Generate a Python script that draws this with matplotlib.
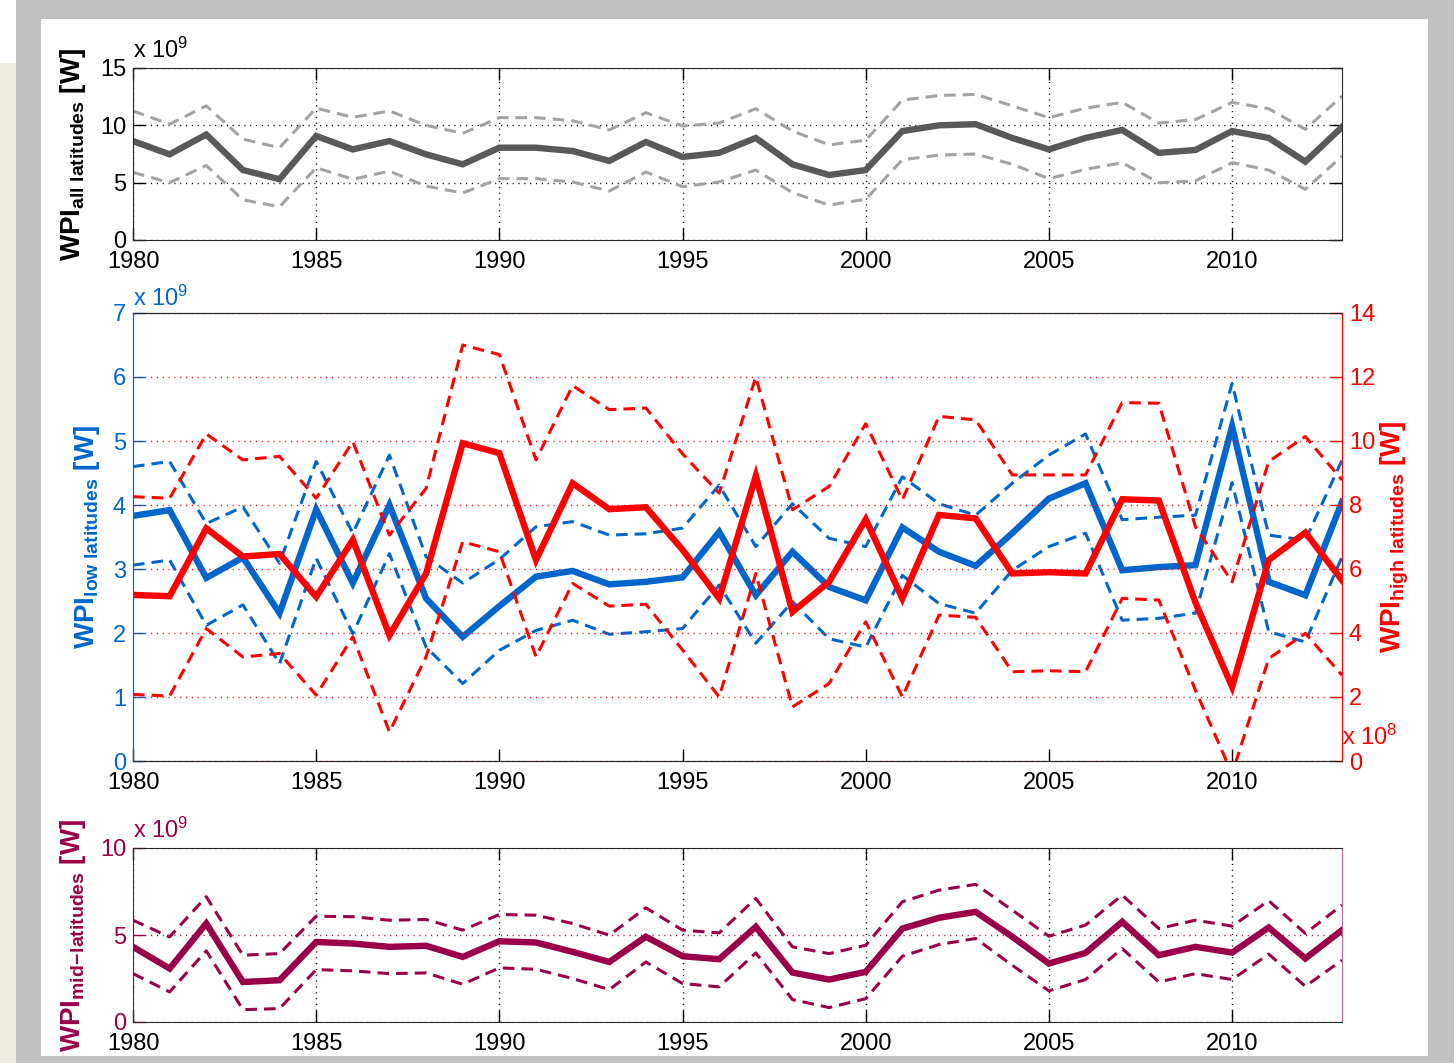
import matplotlib
matplotlib.use('Agg')
import matplotlib.pyplot as plt
from matplotlib.patches import Rectangle

plt.rcParams['font.family'] = ['Liberation Sans', 'DejaVu Sans']
plt.rcParams['mathtext.fontset'] = 'custom'
plt.rcParams['mathtext.rm'] = 'Liberation Sans'
plt.rcParams['mathtext.bf'] = 'Liberation Sans:bold'
plt.rcParams['mathtext.it'] = 'Liberation Sans:italic'

years = list(range(1980, 2014))
xticks = [1980, 1985, 1990, 1995, 2000, 2005, 2010]

# all latitudes (x 10^9 W): estimate and uncertainty band
wpi_all = [8.63, 7.47, 9.2, 6.1, 5.3, 9.07, 7.9, 8.63, 7.47, 6.6,
           8.05, 8.05, 7.76, 6.9, 8.55, 7.24, 7.6, 8.9, 6.6, 5.67,
           6.1, 9.5, 10.0, 10.1, 8.9, 7.9, 8.9, 9.6, 7.6, 7.85,
           9.5, 8.9, 6.83, 9.85]
wpi_all_hi = [11.25, 10.1, 11.7, 8.8, 8.05, 11.5, 10.7, 11.25, 10.0, 9.3,
              10.67, 10.67, 10.4, 9.6, 11.1, 9.94, 10.2, 11.45, 9.5, 8.3,
              8.7, 12.2, 12.6, 12.7, 11.7, 10.67, 11.5, 12.0, 10.2, 10.5,
              12.0, 11.45, 9.65, 12.55]
wpi_all_lo = [5.9, 5.0, 6.5, 3.5, 2.9, 6.3, 5.3, 6.0, 4.7, 4.1,
              5.35, 5.35, 5.06, 4.27, 5.93, 4.65, 5.06, 6.1, 4.13, 3.05,
              3.55, 7.0, 7.4, 7.5, 6.6, 5.35, 6.16, 6.74, 5.0, 5.15,
              6.74, 6.1, 4.42, 7.3]

# low latitudes (x 10^9 W)
wpi_low = [3.83, 3.92, 2.86, 3.18, 2.31, 3.93, 2.78, 4.0, 2.54, 1.94,
           2.42, 2.88, 2.97, 2.76, 2.8, 2.87, 3.58, 2.59, 3.27, 2.72,
           2.51, 3.65, 3.27, 3.05, 3.56, 4.1, 4.34, 2.98, 3.03, 3.06,
           5.23, 2.8, 2.59, 4.05]
wpi_low_hi = [4.6, 4.68, 3.71, 3.97, 3.09, 4.68, 3.56, 4.78, 3.19, 2.78,
              3.15, 3.66, 3.74, 3.53, 3.55, 3.64, 4.31, 3.35, 4.02, 3.48,
              3.35, 4.44, 4.02, 3.84, 4.34, 4.78, 5.11, 3.77, 3.81, 3.84,
              5.9, 3.53, 3.45, 4.7]
wpi_low_lo = [3.06, 3.14, 2.12, 2.44, 1.52, 3.17, 1.99, 3.24, 1.78, 1.21,
              1.73, 2.04, 2.2, 1.98, 2.02, 2.07, 2.75, 1.84, 2.49, 1.91,
              1.78, 2.9, 2.46, 2.31, 2.98, 3.35, 3.56, 2.2, 2.23, 2.31,
              4.35, 2.02, 1.86, 3.19]

# high latitudes (x 10^8 W)
wpi_high = [5.19, 5.15, 7.27, 6.39, 6.47, 5.13, 6.91, 3.93, 5.86, 9.93,
            9.62, 6.28, 8.68, 7.87, 7.93, 6.6, 5.08, 8.91, 4.66, 5.6,
            7.55, 5.08, 7.69, 7.58, 5.86, 5.9, 5.86, 8.18, 8.14, 4.95,
            2.32, 6.28, 7.14, 5.65]
wpi_high_hi = [8.26, 8.21, 10.22, 9.41, 9.52, 8.21, 9.98, 7.06, 8.52, 13.0,
               12.7, 9.41, 11.73, 10.98, 11.03, 9.6, 8.37, 12.0, 7.85, 8.58,
               10.54, 8.16, 10.77, 10.66, 8.94, 8.94, 8.94, 11.2, 11.18, 7.32,
               5.6, 9.36, 10.14, 8.78]
wpi_high_lo = [2.08, 2.03, 4.14, 3.25, 3.36, 2.06, 3.88, 0.91, 3.26, 6.85,
               6.54, 3.26, 5.55, 4.84, 4.9, 3.47, 2.0, 5.86, 1.69, 2.42,
               4.35, 2.0, 4.56, 4.49, 2.79, 2.82, 2.79, 5.08, 5.03, 2.21,
               -0.4, 3.2, 3.99, 2.68]

# mid-latitudes (x 10^9 W)
wpi_mid = [4.32, 3.07, 5.66, 2.3, 2.4, 4.6, 4.51, 4.32, 4.38, 3.74,
           4.64, 4.57, 4.03, 3.45, 4.9, 3.78, 3.61, 5.47, 2.84, 2.44,
           2.88, 5.37, 5.99, 6.33, 4.9, 3.36, 3.97, 5.76, 3.84, 4.32,
           3.99, 5.43, 3.65, 5.28]
wpi_mid_hi = [5.85, 4.89, 7.2, 3.84, 3.93, 6.08, 6.05, 5.85, 5.89, 5.28,
              6.18, 6.14, 5.66, 4.99, 6.56, 5.28, 5.12, 7.1, 4.32, 3.93,
              4.41, 6.91, 7.58, 7.91, 6.43, 4.93, 5.57, 7.29, 5.37, 5.85,
              5.51, 6.97, 5.09, 6.72]
wpi_mid_lo = [2.78, 1.73, 4.09, 0.71, 0.77, 3.01, 2.94, 2.78, 2.82, 2.17,
              3.11, 3.03, 2.5, 1.86, 3.45, 2.21, 2.02, 3.97, 1.29, 0.83,
              1.34, 3.78, 4.45, 4.8, 3.26, 1.79, 2.44, 4.22, 2.3, 2.78,
              2.44, 3.9, 2.05, 3.55]

GRAY = '#595959'
LGRAY = '#a3a3a3'
BLUE = '#0066cc'
RED = '#ff0000'
MAROON = '#990047'
SPINE = '#262626'
DOT = (0, (0.8, 3.4))
FS = 17
LFS = 20
MAIN_LW = 4.6
BAND_LW = 2.2
DASH = (3.8, 2.3)

fig = plt.figure(figsize=(14.56, 10.63), dpi=100, facecolor='#c0c0c0')
W, H = 1456.0, 1063.0


def px_rect(x0, y0, x1, y1, color):
    fig.patches.append(Rectangle((x0 / W, 1 - y1 / H), (x1 - x0) / W, (y1 - y0) / H,
                                 transform=fig.transFigure, facecolor=color,
                                 edgecolor='none', zorder=-10))


px_rect(41, 19, 1428, 1056, 'white')
px_rect(0, 0, 16, 63, 'white')
px_rect(0, 63, 16, 1063, '#edebe0')
px_rect(1454, 0, 1456, 1063, 'white')


def axes_px(top, bottom):
    return fig.add_axes([133 / W, 1 - bottom / H, (1342 - 133) / W, (bottom - top) / H])


def style_x(ax, top_ticks=True, grid=True):
    ax.set_xlim(1980, 2013)
    ax.set_xticks(xticks)
    ax.tick_params(axis='x', direction='in', length=8.5, width=1, top=top_ticks,
                   labelsize=FS, pad=8, colors='black')
    if grid:
        ax.xaxis.grid(True, linestyle=DOT, color='black', lw=1)


def band(ax, lo, mid, hi, color, dcolor):
    ax.plot(years, hi, color=dcolor, lw=BAND_LW, dashes=DASH)
    ax.plot(years, lo, color=dcolor, lw=BAND_LW, dashes=DASH)
    ax.plot(years, mid, color=color, lw=MAIN_LW, solid_joinstyle='miter')


# ---- all latitudes ----
ax1 = axes_px(68, 240)
band(ax1, wpi_all_lo, wpi_all, wpi_all_hi, GRAY, LGRAY)
style_x(ax1)
ax1.set_ylim(0, 15)
ax1.set_yticks([0, 5, 10, 15])
ax1.tick_params(axis='y', direction='in', length=8.5, width=1, right=True,
                labelsize=FS, pad=5)
ax1.yaxis.grid(True, linestyle=DOT, color='black', lw=1)
for s in ax1.spines.values():
    s.set_color(SPINE)
ax1.set_ylabel(r'$\mathbf{WPI}_{\mathbf{all\ latitudes}}$ $\mathbf{[W]}$', fontsize=LFS)
ax1.yaxis.set_label_coords(-0.037, 0.5)
ax1.text(0, 1.03, r'x 10$^9$', transform=ax1.transAxes, fontsize=FS,
         ha='left', va='bottom')

# ---- low / high latitudes ----
ax2 = axes_px(313, 761)
ax2r = ax2.twinx()
band(ax2, wpi_low_lo, wpi_low, wpi_low_hi, BLUE, BLUE)
band(ax2r, wpi_high_lo, wpi_high, wpi_high_hi, RED, RED)
style_x(ax2, top_ticks=False, grid=False)
ax2.set_ylim(0, 7)
ax2.set_yticks(range(0, 8))
ax2.tick_params(axis='y', direction='in', length=8.5, width=1, labelsize=FS,
                pad=5, colors=BLUE)
ax2r.set_ylim(0, 14)
ax2r.set_yticks(range(0, 15, 2))
ax2r.tick_params(axis='y', direction='in', length=8.5, width=1, labelsize=FS,
                 pad=5, colors=RED)
ax2r.yaxis.grid(True, linestyle=DOT, color=RED, lw=1)
for ax in (ax2, ax2r):
    ax.spines['top'].set_color(SPINE)
    ax.spines['bottom'].set_color(SPINE)
    ax.spines['left'].set_color(BLUE)
    ax.spines['right'].set_color(RED)
ax2.set_ylabel(r'$\mathbf{WPI}_{\mathbf{low\ latitudes}}$ $\mathbf{[W]}$',
               fontsize=LFS, color=BLUE)
ax2.yaxis.set_label_coords(-0.026, 0.5)
ax2r.set_ylabel(r'$\mathbf{WPI}_{\mathbf{high\ latitudes}}$ $\mathbf{[W]}$',
                fontsize=LFS, color=RED, rotation=90)
ax2r.yaxis.set_label_coords(1.030, 0.5)
ax2.text(0, 1.005, r'x 10$^9$', transform=ax2.transAxes, fontsize=FS,
         ha='left', va='bottom', color=BLUE)
ax2r.text(1.0, 0.024, r'x 10$^8$', transform=ax2r.transAxes, fontsize=FS,
          ha='left', va='bottom', color=RED)

# ---- mid-latitudes ----
ax3 = axes_px(848, 1022)
band(ax3, wpi_mid_lo, wpi_mid, wpi_mid_hi, MAROON, MAROON)
style_x(ax3)
ax3.set_ylim(0, 10)
ax3.set_yticks([0, 5, 10])
ax3.tick_params(axis='y', direction='in', length=8.5, width=1, labelsize=FS,
                pad=5, colors=MAROON)
ax3.yaxis.grid(True, linestyle=DOT, color=MAROON, lw=1)
for s in ax3.spines.values():
    s.set_color(SPINE)
ax3.spines['left'].set_color(MAROON)
ax3.spines['right'].set_color('#cc6699')
ax3.set_ylabel(r'$\mathbf{WPI}_{\mathbf{mid\!-\!latitudes}}$ $\mathbf{[W]}$',
               fontsize=LFS, color=MAROON)
ax3.yaxis.set_label_coords(-0.037, 0.5)
ax3.text(0, 1.03, r'x 10$^9$', transform=ax3.transAxes, fontsize=FS,
         ha='left', va='bottom', color=MAROON)

fig.savefig('out.png', dpi=100, facecolor=fig.get_facecolor())
